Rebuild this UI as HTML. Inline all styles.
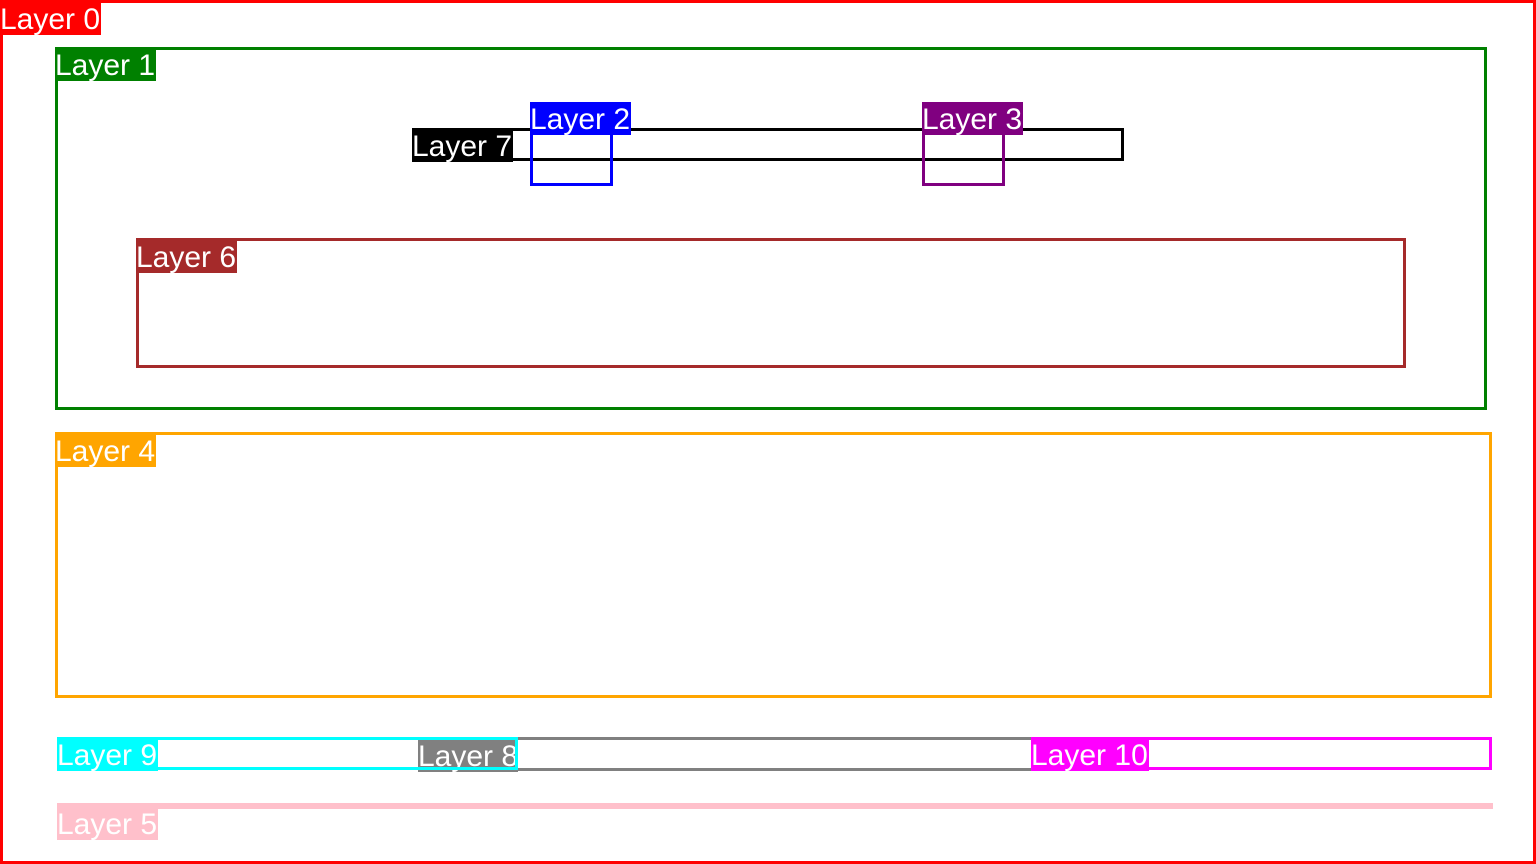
<!DOCTYPE html>
<html><head><meta charset="utf-8"><style>
html,body{margin:0;padding:0;width:1536px;height:864px;background:#fff;overflow:hidden;position:relative}
.b{position:absolute;box-sizing:border-box;border:3px solid}
.l{position:absolute;font-family:"Liberation Sans",Arial,sans-serif;font-size:30px;line-height:36px;color:#fff;white-space:nowrap;height:33px;overflow:hidden}
</style></head><body>
<div class="b" style="left:0;top:0;width:1536px;height:864px;border-color:#f00"></div>
<div class="l" style="left:0;top:2px;width:101px;background:#f00">Layer 0</div>

<div class="b" style="left:55px;top:47px;width:1432px;height:363px;border-color:#008000"></div>
<div class="l" style="left:55px;top:48px;width:101px;background:#008000">Layer 1</div>

<div class="b" style="left:136px;top:238px;width:1270px;height:130px;border-color:#a52a2a"></div>
<div class="l" style="left:136px;top:240px;width:101px;background:#a52a2a">Layer 6</div>

<div class="b" style="left:412px;top:128px;width:712px;height:33px;border-color:#000"></div>
<div class="l" style="left:412px;top:129px;width:101px;background:#000">Layer 7</div>

<div class="b" style="left:530px;top:102px;width:83px;height:84px;border-color:#00f"></div>
<div class="l" style="left:530px;top:102px;width:101px;background:#00f">Layer 2</div>

<div class="b" style="left:922px;top:102px;width:83px;height:84px;border-color:#800080"></div>
<div class="l" style="left:922px;top:102px;width:101px;background:#800080">Layer 3</div>

<div class="b" style="left:55px;top:432px;width:1437px;height:266px;border-color:#ffa500"></div>
<div class="l" style="left:55px;top:434px;width:101px;background:#ffa500">Layer 4</div>

<div class="b" style="left:57px;top:803px;width:1436px;height:6px;border-color:#ffc0cb"></div>
<div class="l" style="left:57px;top:807px;width:101px;background:#ffc0cb">Layer 5</div>

<div class="b" style="left:418px;top:737px;width:620px;height:34px;border-color:#808080"></div>
<div class="l" style="left:418px;top:739px;width:100px;background:#808080">Layer 8</div>

<div class="b" style="left:57px;top:737px;width:461px;height:33px;border-color:#0ff"></div>
<div class="l" style="left:57px;top:738px;width:101px;background:#0ff">Layer 9</div>

<div class="b" style="left:1031px;top:737px;width:461px;height:33px;border-color:#f0f"></div>
<div class="l" style="left:1031px;top:738px;width:118px;background:#f0f">Layer 10</div>
</body></html>
